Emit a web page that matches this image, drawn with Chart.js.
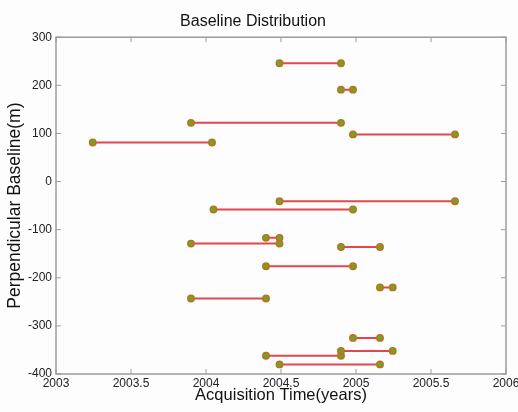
<!DOCTYPE html>
<html>
<head>
<meta charset="utf-8">
<script src="https://cdn.jsdelivr.net/npm/chart.js@4/dist/chart.umd.min.js"></script>
<style>
  html, body { margin: 0; padding: 0; background: #fdfdfd; }
  #wrap { width: 518px; height: 412px; }
</style>
</head>
<body>
<div id="wrap"><canvas id="c" width="518" height="412"></canvas></div>
<script>
// Interferogram pairs: start time, end time (years), perpendicular baseline (m)
const startTimes = [2004.49, 2004.90, 2003.90, 2004.98, 2003.245, 2004.49, 2004.05, 2004.40, 2003.90, 2004.90, 2004.40, 2005.16, 2003.90, 2004.98, 2004.90, 2004.40, 2004.49];
const endTimes   = [2004.90, 2004.98, 2004.90, 2005.66, 2004.04, 2005.66, 2004.98, 2004.49, 2004.49, 2005.16, 2004.98, 2005.245, 2004.40, 2005.16, 2005.245, 2004.90, 2005.16];
const baselines  = [246, 191, 122, 98, 81, -41, -58, -117, -129, -136, -176, -220, -243, -325, -352, -362, -380];

const xTicks = [2003, 2003.5, 2004, 2004.5, 2005, 2005.5, 2006];
const xTickLabels = ['2003', '2003.5', '2004', '2004.5', '2005', '2005.5', '2006'];
const yTicks = [-400, -300, -200, -100, 0, 100, 200, 300];
const yTickLabels = ['-400', '-300', '-200', '-100', '0', '100', '200', '300'];

const datasets = baselines.map((b, i) => ({
  data: [{x: startTimes[i], y: b}, {x: endTimes[i], y: b}],
  showLine: true,
  borderColor: '#e2474f',
  borderWidth: 2,
  pointBackgroundColor: '#6aa62c',
  pointBorderColor: '#c0701a',
  pointBorderWidth: 1.5,
  pointRadius: 3.2,
  pointHoverRadius: 3.2
}));

const boxTicks = {
  id: 'boxTicks',
  afterDatasetsDraw(chart) {
    const {ctx, chartArea: a, scales} = chart;
    ctx.save();
    ctx.strokeStyle = '#9c9c9c';
    ctx.lineWidth = 1.5;
    ctx.strokeRect(a.left, a.top, a.right - a.left, a.bottom - a.top);
    ctx.lineWidth = 1;
    const L = 5;
    xTicks.forEach(v => {
      const px = scales.x.getPixelForValue(v);
      ctx.beginPath();
      ctx.moveTo(px, a.bottom); ctx.lineTo(px, a.bottom - L);
      ctx.moveTo(px, a.top); ctx.lineTo(px, a.top + L);
      ctx.stroke();
    });
    yTicks.forEach(v => {
      const py = scales.y.getPixelForValue(v);
      ctx.beginPath();
      ctx.moveTo(a.left, py); ctx.lineTo(a.left + L, py);
      ctx.moveTo(a.right, py); ctx.lineTo(a.right - L, py);
      ctx.stroke();
    });
    ctx.restore();
  }
};

new Chart(document.getElementById('c'), {
  type: 'scatter',
  data: { datasets },
  plugins: [boxTicks],
  options: {
    responsive: false,
    animation: false,
    layout: { padding: { left: 0, right: 12, top: 0, bottom: 0 } },
    plugins: {
      legend: { display: false },
      tooltip: { enabled: false },
      title: {
        display: true,
        text: 'Baseline Distribution',
        color: '#111',
        font: { family: 'Liberation Sans, Arial, sans-serif', size: 16, weight: 'normal', lineHeight: 1.2 },
        padding: { top: 12, bottom: 6 }
      }
    },
    scales: {
      x: {
        type: 'linear',
        min: 2003, max: 2006,
        afterBuildTicks(scale) { scale.ticks = xTicks.map(v => ({value: v})); },
        afterFit(scale) { scale.height = 38; scale.paddingLeft = 0; scale.paddingRight = 0; },
        grid: { display: false, drawTicks: false },
        border: { display: false },
        ticks: {
          padding: 2,
          color: '#222',
          font: { family: 'Liberation Sans, Arial, sans-serif', size: 12 },
          maxRotation: 0,
          autoSkip: false,
          callback: (v) => { const i = xTicks.indexOf(v); return i >= 0 ? xTickLabels[i] : ''; }
        },
        title: {
          display: true,
          text: 'Acquisition Time(years)',
          color: '#111',
          font: { family: 'Liberation Sans, Arial, sans-serif', size: 16.5, lineHeight: 1.2 },
          padding: { top: 0, bottom: 7 }
        }
      },
      y: {
        type: 'linear',
        min: -400, max: 300,
        afterBuildTicks(scale) { scale.ticks = yTicks.map(v => ({value: v})); },
        afterFit(scale) { scale.width = 56; },
        grid: { display: false, drawTicks: false },
        border: { display: false },
        ticks: {
          padding: 4,
          color: '#222',
          font: { family: 'Liberation Sans, Arial, sans-serif', size: 12 },
          autoSkip: false,
          callback: (v) => { const i = yTicks.indexOf(v); return i >= 0 ? yTickLabels[i] : ''; }
        },
        title: {
          display: true,
          text: 'Perpendicular Baseline(m)',
          color: '#111',
          font: { family: 'Liberation Sans, Arial, sans-serif', size: 17.5, lineHeight: 1.2 },
          padding: { top: 5, bottom: 0 }
        }
      }
    }
  }
});
</script>
</body>
</html>
